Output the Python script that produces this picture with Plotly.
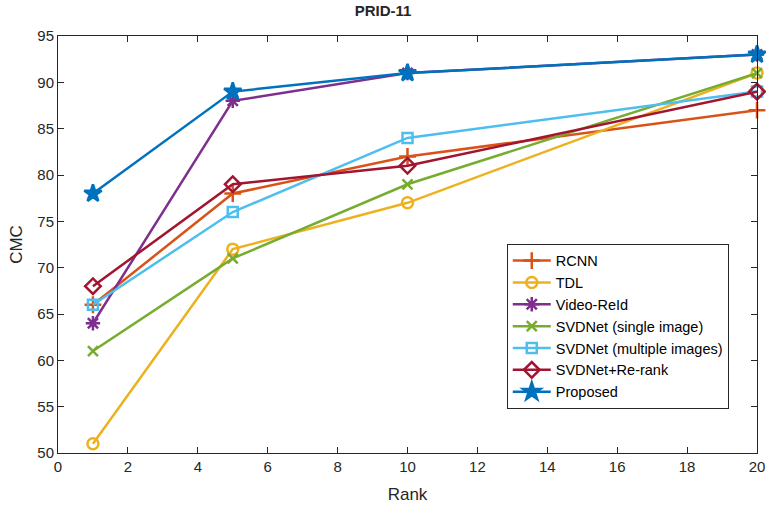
import plotly.graph_objects as go

ranks = [1, 5, 10, 20]
rcnn = [66, 78, 82, 87]
tdl = [51, 72, 77, 91]
video_reid = [64, 88, 91, 93]
svd_single = [61, 71, 79, 91]
svd_multi = [66, 76, 84, 89]
svd_rerank = [68, 79, 81, 89]
proposed = [78, 89, 91, 93]

x_ticks = list(range(0, 21, 2))
y_ticks = list(range(50, 96, 5))

series = [
    ("RCNN", rcnn, "#D95319", "cross-thin-open", 12),
    ("TDL", tdl, "#EDB120", "circle-open", 11),
    ("Video-ReId", video_reid, "#7E2F8E", "asterisk-open", 12),
    ("SVDNet (single image)", svd_single, "#77AC30", "x-thin-open", 10),
    ("SVDNet (multiple images)", svd_multi, "#4DBEEE", "square-open", 10),
    ("SVDNet+Re-rank", svd_rerank, "#A2142F", "diamond-open", 12),
    ("Proposed", proposed, "#0072BD", "star", 13),
]

fig = go.Figure()
for name, vals, color, sym, size in series:
    fig.add_trace(go.Scatter(
        x=ranks, y=vals, name=name, mode="lines+markers",
        line=dict(color=color, width=2.5),
        marker=dict(symbol=sym, size=size, color=color,
                    line=dict(color=color, width=2.5)),
        cliponaxis=False,
    ))

FONT = "Liberation Sans, Arial"
axis_common = dict(
    showgrid=False, zeroline=False, showline=True, mirror="ticks",
    linecolor="#262626", linewidth=1, ticks="inside", ticklen=6,
    tickcolor="#262626", tickfont=dict(family=FONT, size=15, color="#262626"),
    automargin=False,
)

fig.update_layout(
    width=766, height=506,
    margin=dict(l=58, r=9, t=36, b=53),
    paper_bgcolor="white", plot_bgcolor="white",
    title=dict(text="<b>PRID-11</b>", x=0.5, xanchor="center", y=0.99, yanchor="top",
               font=dict(family=FONT, size=15, color="#262626")),
    xaxis=dict(axis_common, range=[0, 20], tickvals=x_ticks,
               title=dict(text="Rank", font=dict(family=FONT, size=17, color="#262626"), standoff=14)),
    yaxis=dict(axis_common, range=[50, 95], tickvals=y_ticks,
               title=dict(text="CMC", font=dict(family=FONT, size=17, color="#262626"), standoff=10)),
    legend=dict(x=0.642, y=0.502, xanchor="left", yanchor="top",
                bgcolor="white", bordercolor="#262626", borderwidth=1,
                font=dict(family=FONT, size=14.5, color="black"),
                tracegroupgap=0, itemwidth=38),
    showlegend=True,
)

fig.write_html("out.html", config={"displayModeBar": False},
               post_script="document.body.style.margin='0';")
